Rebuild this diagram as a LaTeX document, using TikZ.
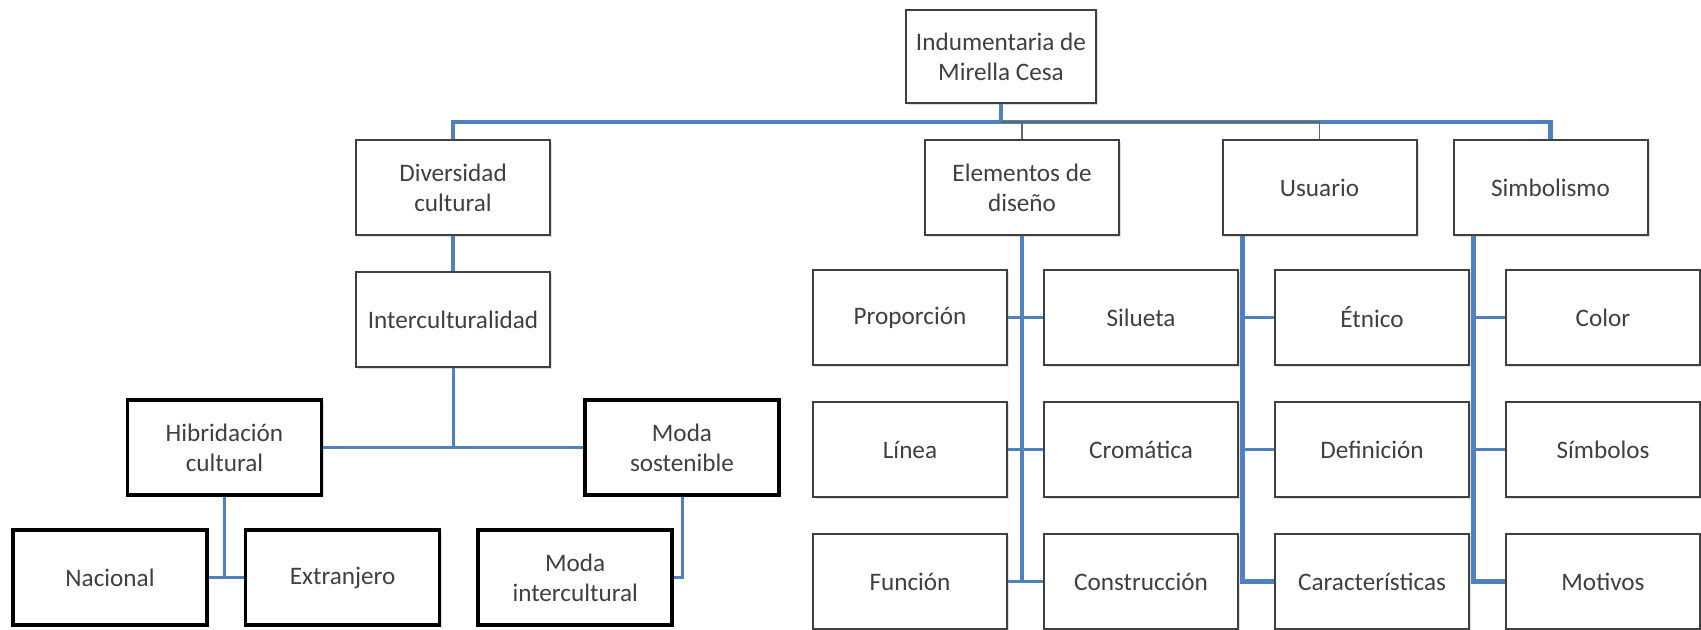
\documentclass[tikz,border=0pt]{standalone}
\usepackage{fontspec}
\setmainfont{Carlito}
\usetikzlibrary{positioning,shadows}
\definecolor{linkblue}{RGB}{79,129,189}
\tikzstyle{box}=[
	rectangle,
	draw=black!75,
	line width=1pt,
	fill=white,
	text=black!75,
	align=center,
	font=\fontsize{12.6}{15}\selectfont,
	minimum width=97pt,
	minimum height=47.5pt,
	inner sep=2pt,
	drop shadow={opacity=0.25, shadow xshift=1pt, shadow yshift=-1.2pt},
	node distance=17.5pt and 17.5pt
]
\tikzstyle{heavybox}=[
	box,
	draw=black,
	line width=1.8pt
]
\tikzstyle{link}=[
	line width=2.2pt,
	draw=linkblue
]
\tikzstyle{branch}=[
	line width=1.5pt,
	draw=linkblue
]
\tikzstyle{thinlink}=[
	line width=0.6pt,
	draw=black!60
]

\begin{document}
\begin{tikzpicture}[x=0.5pt,y=-0.5pt]
\useasboundingbox (0,0) rectangle (1701,629);
\coordinate (bus) at (0,122);
% top level
\node [box, minimum width=95pt, minimum height=46.5pt] (Indumentaria) at (1001,56.5) {Indumentaria de\\Mirella Cesa};
\node [box] (Diversidad) at (453,187.5) {Diversidad\\cultural};
\node [box] (Elementos) at (1022,187.5) {Elementos de\\diseño};
\node [box] (Usuario) at (1319.5,187.5) {Usuario};
\node [box] (Simbolismo)[right=of Usuario] {Simbolismo};
% left branch
\node [box] (Interculturalidad)[below=of Diversidad] {Interculturalidad};
\node [heavybox] (Hibridacion) at (224.5,447.5) {Hibridación\\cultural};
\node [heavybox] (ModaSostenible) at (682,447.5) {Moda\\sostenible};
\node [heavybox] (Nacional) at (110,577.5) {Nacional};
\node [heavybox] (Extranjero)[right=of Nacional] {Extranjero};
\node [heavybox] (ModaIntercultural)[right=of Extranjero] {Moda\\intercultural};
% right grid
\node [box] (Proporcion) at (910,317.5) {Proporción};
\node [box] (Silueta)[right=of Proporcion] {Silueta};
\node [box] (Etnico)[right=of Silueta] {Étnico};
\node [box] (Color)[right=of Etnico] {Color};
\node [box] (Linea)[below=of Proporcion] {Línea};
\node [box] (Cromatica)[right=of Linea] {Cromática};
\node [box] (Definicion)[right=of Cromatica] {Definición};
\node [box] (Simbolos)[right=of Definicion] {Símbolos};
\node [box] (Funcion)[below=of Linea] {Función};
\node [box] (Construccion)[right=of Funcion] {Construcción};
\node [box] (Caracteristicas)[right=of Construccion] {Características};
\node [box] (Motivos)[right=of Caracteristicas] {Motivos};

% connectors from the top
\draw [link] (Indumentaria.south) -- (Indumentaria.south |- bus) -| (Diversidad.north);
\draw [link] (Indumentaria.south |- bus) -| (Simbolismo.north);
\draw [thinlink] (Indumentaria.south |- bus) -| (Elementos.north);
\draw [thinlink] (Indumentaria.south |- bus) -| (Usuario.north);
% left connectors
\draw [link] (Diversidad) -- (Interculturalidad);
\draw [branch] (Hibridacion) -- (ModaSostenible);
\draw [branch] (Interculturalidad) -- (Interculturalidad |- Hibridacion);
\draw [branch] (Nacional) -- (Extranjero);
\draw [branch] (Hibridacion) -- (Hibridacion |- Nacional);
\draw [branch] (ModaSostenible) |- (ModaIntercultural);
% right connectors
\draw [branch] (Proporcion) -- (Silueta);
\draw [branch] (Linea) -- (Cromatica);
\draw [branch] (Funcion) -- (Construccion);
\draw [link] (Elementos) -- (Elementos |- Funcion);
\coordinate (UsuarioRoot) at ([xshift=10.5pt]Usuario.south west);
\draw [branch] (UsuarioRoot |- Etnico) -- (Etnico);
\draw [branch] (UsuarioRoot |- Definicion) -- (Definicion);
\draw [link] (UsuarioRoot) |- (Caracteristicas);
\coordinate (SimbolismoRoot) at ([xshift=10.5pt]Simbolismo.south west);
\draw [branch] (SimbolismoRoot |- Color) -- (Color);
\draw [branch] (SimbolismoRoot |- Simbolos) -- (Simbolos);
\draw [link] (SimbolismoRoot) |- (Motivos);
\end{tikzpicture}
\end{document}
